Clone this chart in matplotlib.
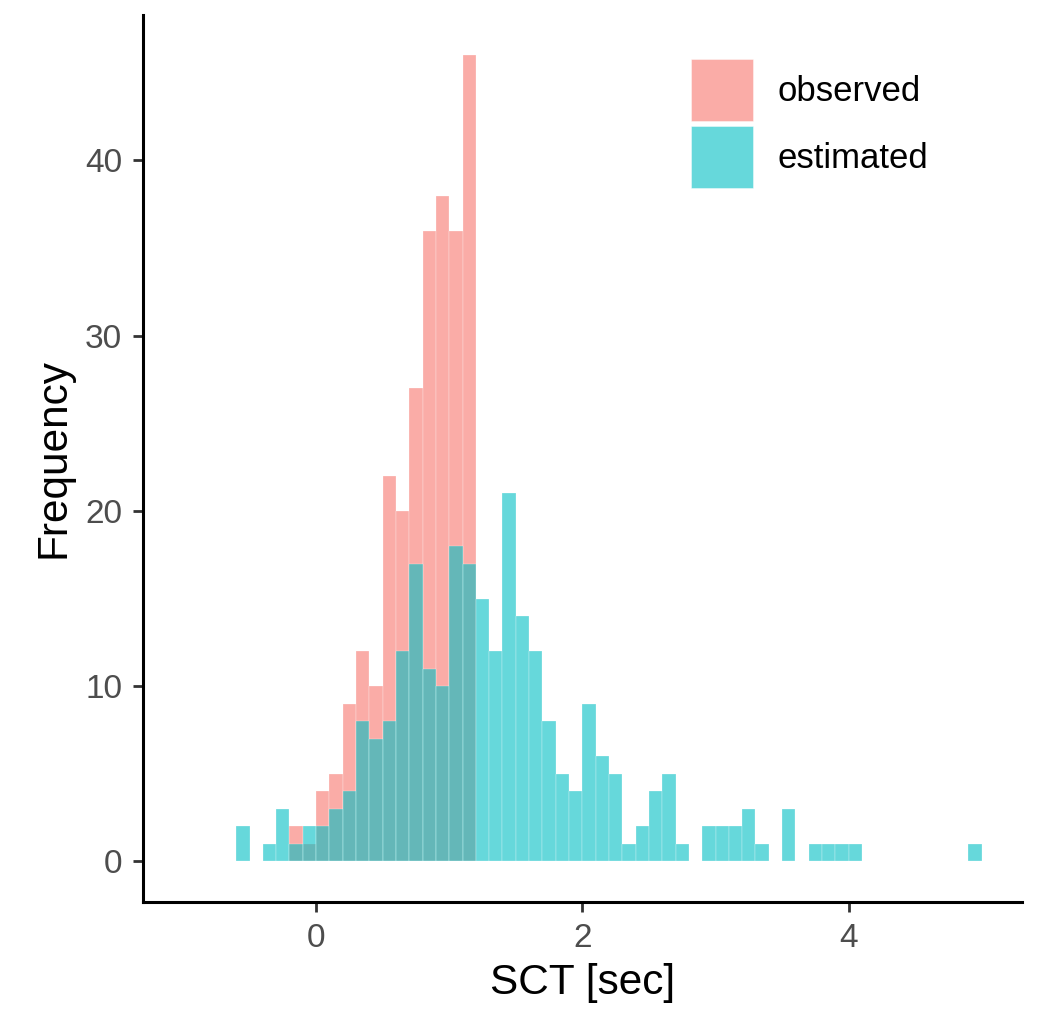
import numpy as np
import matplotlib
matplotlib.use("Agg")
import matplotlib.pyplot as plt
from matplotlib.patches import Patch

plt.rcParams["font.family"] = ["Liberation Sans", "DejaVu Sans"]

# histogram bins: width 0.1, left edge of the first bin
bin_width = 0.1
obs_start = -0.2
est_start = -0.6

# observed SCT counts per bin (from -0.2 to 1.2)
observed = [2, 1, 4, 5, 9, 12, 10, 22, 20, 27, 36, 38, 36, 46]

# estimated SCT counts per bin (from -0.6 to 5.0)
estimated = [2, 0, 1, 3, 1, 2,
             2, 3, 4, 8, 7, 8, 12, 17, 11, 10,
             18, 17, 15, 12, 21, 14, 12, 8, 5, 4,
             9, 6, 5, 1, 2, 4, 5, 1, 0, 2,
             2, 2, 3, 1, 0, 3, 0, 1, 1, 1,
             1, 0, 0, 0, 0, 0, 0, 0, 0, 1]

labels = ["observed", "estimated"]
colors = ["#F8766D", "#00BFC4"]

fig = plt.figure(figsize=(10.37, 10.09), dpi=100)
ax = fig.add_axes([0.1379, 0.1063, 0.8474, 0.8788])

obs_edges = obs_start + bin_width * np.arange(len(observed))
est_edges = est_start + bin_width * np.arange(len(estimated))

ax.bar(obs_edges, observed, width=bin_width, align="edge", color=colors[0],
       alpha=0.6, edgecolor="white", linewidth=0.3)
ax.bar(est_edges, estimated, width=bin_width, align="edge", color=colors[1],
       alpha=0.6, edgecolor="white", linewidth=0.3)

ax.set_xlim(-1.3, 5.3)
ax.set_ylim(-2.3, 48.3)
ax.set_xticks([0, 2, 4])
ax.set_yticks([0, 10, 20, 30, 40])

for side in ["top", "right"]:
    ax.spines[side].set_visible(False)
for side in ["left", "bottom"]:
    ax.spines[side].set_linewidth(2.2)
    ax.spines[side].set_color("black")

ax.tick_params(axis="both", length=7, width=2, color="#333333",
               labelsize=24, labelcolor="#4D4D4D", pad=8)

ax.set_xlabel("SCT [sec]", fontsize=30.5, labelpad=7)
ax.set_ylabel("Frequency", fontsize=30.5, labelpad=8)

handles = [Patch(facecolor=c, alpha=0.6, edgecolor="white", linewidth=0.5) for c in colors]
fig.legend(handles, labels, loc="upper left", bbox_to_anchor=(0.666, 0.9415),
           frameon=False, fontsize=25, handlelength=1.79, handleheight=2.37,
           labelspacing=0.15, handletextpad=0.70, borderpad=0, borderaxespad=0)

fig.savefig("out.png", dpi=100)
